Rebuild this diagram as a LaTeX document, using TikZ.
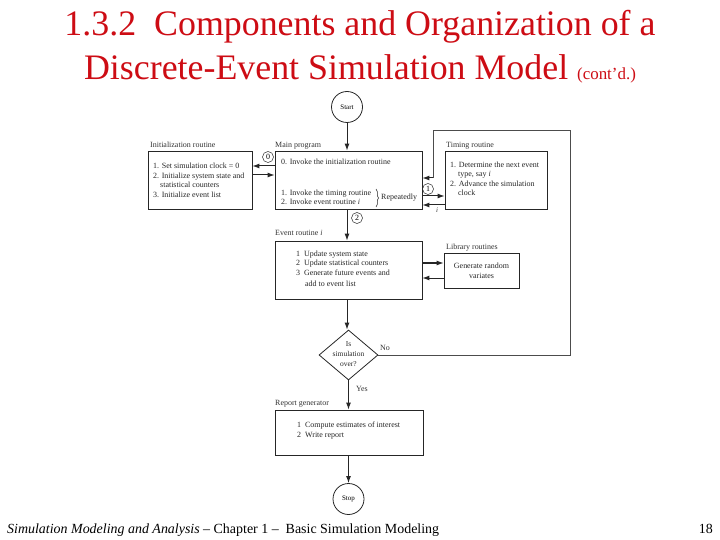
\documentclass[tikz,border=0pt]{standalone}
\usepackage{fontspec}
\setmainfont{Liberation Serif}
\usetikzlibrary{arrows.meta,shapes.geometric,decorations.pathreplacing}
\definecolor{titlered}{RGB}{205,12,20}
\begin{document}
\begin{tikzpicture}[x=1bp,y=-1bp,
  box/.style={draw=black!85,line width=0.8bp,rectangle,inner sep=0pt},
  circ/.style={draw=black!85,line width=0.8bp,circle,inner sep=0pt,font=\fontsize{7}{8}\selectfont},
  num/.style={draw=black!85,line width=0.5bp,circle,inner sep=0.3bp,minimum size=11bp,font=\fontsize{8}{8}\selectfont},
  arr/.style={-{Latex[length=7bp,width=5bp]},line width=1bp,black!85},
  fb/.style={line width=0.5bp,black!70},
  lbl/.style={anchor=base west,inner sep=0pt,font=\fontsize{8}{9}\selectfont,text=black!80},
  txt/.style={anchor=base west,inner sep=0pt,font=\fontsize{8}{9}\selectfont,text=black!85}]
\useasboundingbox (0,0) rectangle (720,540);
% title
\node[anchor=base,inner sep=0pt,font=\fontsize{36}{40}\selectfont,text=titlered] (t1) at (360,36) {1.3.2\ \ Components and Organization of a};
\node[anchor=base,inner sep=0pt,font=\fontsize{36}{40}\selectfont,text=titlered] (t2) at (360,80) {Discrete-Event Simulation Model {\fontsize{17}{19}\selectfont (cont'd.)}};
% footer
\node[anchor=base west,inner sep=0pt,font=\fontsize{14}{16}\selectfont] (foot) at (7,533) {\textit{Simulation Modeling and Analysis} -- Chapter 1 -- \ Basic Simulation Modeling};
\node[anchor=base east,inner sep=0pt,font=\fontsize{14}{16}\selectfont] (pg) at (713,533) {18};
% nodes
\node[circ,minimum size=31bp] (start) at (347,107) {Start};
\node[box,minimum width=147bp,minimum height=58bp] (main) at (348.5,180) {};
\node[box,minimum width=104bp,minimum height=58bp] (init) at (200,180) {};
\node[box,minimum width=102bp,minimum height=58bp] (timing) at (496,180) {};
\node[box,minimum width=147bp,minimum height=58bp] (event) at (348.5,270) {};
\node[box,minimum width=75bp,minimum height=35bp] (lib) at (481.5,270.5) {};
\node[draw=black!85,line width=0.8bp,diamond,aspect=1.18,minimum width=59bp,minimum height=50bp,inner sep=0pt] (dia) at (348.5,355) {};
\node[box,minimum width=148bp,minimum height=45bp] (rep) at (349,432.5) {};
\node[circ,minimum size=31bp] (stop) at (348.5,499) {Stop};
% labels above boxes
\node[lbl] (linit) at (150,148) {Initialization routine};
\node[lbl] (lmain) at (275,148) {Main program};
\node[lbl] (ltim) at (446,148) {Timing routine};
\node[lbl] (lev) at (275,236) {Event routine \textit{i}};
\node[lbl] (llib) at (446,250) {Library routines};
\node[lbl] (lrep) at (275,405) {Report generator};
% box texts
\node[txt] (i1) at (153,169) {1. Set simulation clock = 0};
\node[txt] (i2) at (153,179) {2. Initialize system state and};
\node[txt] (i3) at (160,188) {statistical counters};
\node[txt] (i4) at (153,198) {3. Initialize event list};
\node[txt] (m0) at (281,165) {0. Invoke the initialization routine};
\node[txt] (m1) at (281,196) {1. Invoke the timing routine};
\node[txt] (m2) at (281,205) {2. Invoke event routine \textit{i}};
\draw[decorate,decoration={brace,amplitude=2.5bp},line width=0.5bp,black!85] (376,189) -- (376,207);
\node[txt] (rep1) at (381,200) {Repeatedly};
\node[txt] (t1a) at (450,168) {1. Determine the next event};
\node[txt] (t1b) at (458,177) {type, say \textit{i}};
\node[txt] (t2a) at (450,187) {2. Advance the simulation};
\node[txt] (t2b) at (458,196) {clock};
\node[txt] (e1) at (296,257) {1\ \ Update system state};
\node[txt] (e2) at (296,266) {2\ \ Update statistical counters};
\node[txt] (e3) at (296,276) {3\ \ Generate future events and};
\node[txt] (e4) at (305,287) {add to event list};
\node[align=center,inner sep=0pt,font=\fontsize{8}{10}\selectfont,text=black!85] (libt) at (481.5,271) {Generate random\\variates};
\node[align=center,inner sep=0pt,font=\fontsize{7.5}{10}\selectfont,text=black!85] (diat) at (348.5,354) {Is\\simulation\\over?};
\node[txt] (r1) at (297,427) {1\ \ Compute estimates of interest};
\node[txt] (r2) at (297,437) {2\ \ Write report};
% connectors
\draw[arr] (start) -- (main.north -| start);
\draw[arr] (main.west |- 0,166) -- (init.east |- 0,166);
\draw[arr] (init.east |- 0,175) -- (main.west |- 0,175);
\node[num] (n0) at (268,157) {0};
\draw[arr] (main.east |- 0,196) -- (timing.west |- 0,196);
\draw[arr] (timing.west |- 0,205) -- (main.east |- 0,205);
\node[num] (n1) at (428,189) {1};
\node[lbl,font=\fontsize{7}{8}\selectfont\itshape] (li) at (436,213) {i};
\draw[arr] (main.south -| start) -- (event.north -| start);
\node[num] (n2) at (357,218) {2};
\draw[arr] (event.east |- 0,263) -- (lib.west |- 0,263);
\draw[arr] (lib.west |- 0,278) -- (event.east |- 0,278);
\draw[arr] (event.south -| start) -- (dia.north -| start);
\draw[arr] (dia) -- (rep.north -| dia);
\node[lbl] (yes) at (356,391) {Yes};
\node[lbl] (no) at (380,350) {No};
\coordinate (c1) at (570,355);
\coordinate (c2) at (570,130);
\coordinate (c3) at (433,130);
\coordinate (c4) at (433,178);
\draw[fb] (dia.east) -- (c1) -- (c2) -- (c3) -- (c4);
\draw[arr] (c4) -- (main.east |- c4);
\draw[arr] (rep.south -| stop) -- (stop);
\end{tikzpicture}
\end{document}
